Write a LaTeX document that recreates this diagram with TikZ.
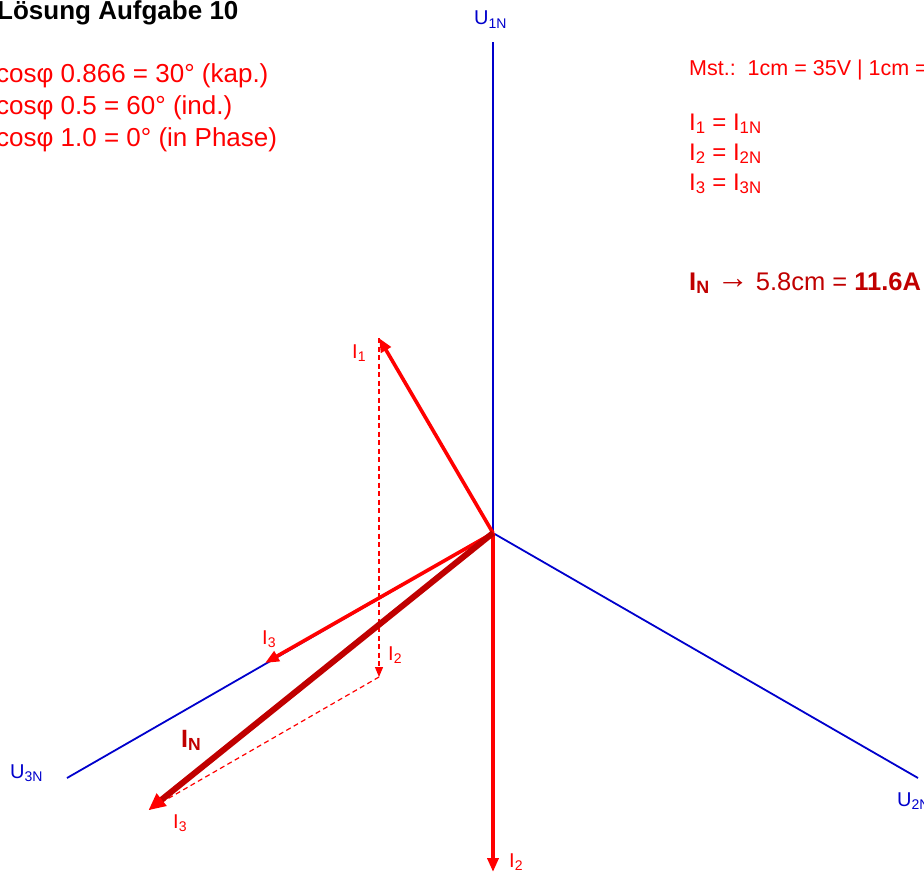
\documentclass[tikz,border=0pt]{standalone}
\usepackage{fontspec}
\setmainfont{Liberation Sans}
\usetikzlibrary{arrows.meta}
\definecolor{ublue}{RGB}{0,0,204}
\definecolor{ired}{RGB}{255,0,0}
\definecolor{dred}{RGB}{192,0,0}
\newcommand{\fs}[1]{\fontsize{#1}{#1}\selectfont}
\tikzset{
  axis/.style={draw=ublue, line width=1.8pt},
  phasor/.style={draw=ired, line width=3.6pt, -{Triangle[length=14pt,width=11pt]}},
  sumphasor/.style={draw=dred, line width=6pt, -{Triangle[length=17pt,width=15pt,color=ired]}, shorten >=-2pt},
  helper/.style={draw=ired, line width=1.2pt, dash pattern=on 5pt off 3.5pt},
  helperarrow/.style={helper, -{Triangle[length=10pt,width=8pt]}},
  txt/.style={inner sep=0pt, anchor=base west},
  ulbl/.style={txt, text=ublue, font=\fs{20}},
  ilbl/.style={txt, text=ired, font=\fs{20}}
}
\begin{document}
\begin{tikzpicture}[x=1pt,y=-1pt]
\useasboundingbox (0,0) rectangle (924,875);
% coordinates
\coordinate (O) at (493,533);
\coordinate (U1) at (493,42);
\coordinate (U2) at (918,778);
\coordinate (U3) at (67,778);
\coordinate (I1) at (379,338);
\coordinate (I2) at (493,872);
\coordinate (I3) at (265,663);
\coordinate (D2) at (379,677);
\coordinate (IN) at (150,809);
% axes
\draw[axis] (O) -- (U1);
\draw[axis] (O) -- (U2);
\draw[axis] (O) -- (U3);
% helper construction
\draw[helperarrow] (I1) -- (D2);
\draw[helper] (D2) -- (IN);
% phasors
\draw[phasor] (O) -- (I1);
\draw[phasor] (O) -- (I2);
\draw[phasor] (O) -- (I3);
\draw[sumphasor] (O) -- (IN);
% axis labels
\node[ulbl] (lU1) at (474,25) {U\textsubscript{1N}};
\node[ulbl] (lU2) at (897,806) {U\textsubscript{2N}};
\node[ulbl] (lU3) at (10,778) {U\textsubscript{3N}};
% phasor labels
\node[ilbl] (lI1) at (352,358) {I\textsubscript{1}};
\node[ilbl] (lI2) at (509,867) {I\textsubscript{2}};
\node[ilbl] (lI3) at (262,644) {I\textsubscript{3}};
\node[ilbl] (lI2b) at (388,660) {I\textsubscript{2}};
\node[ilbl] (lI3b) at (173,828) {I\textsubscript{3}};
\node[txt, text=dred, font=\fs{25}\bfseries] (lIN) at (181,747) {I\textsubscript{N}};
% title and notes
\node[txt, font=\fs{26}\bfseries] (title) at (-3,19.5) {Lösung Aufgabe 10};
\node[txt, text=ired, font=\fs{26}] (c1) at (-4,83) {cosφ 0.866 = 30° (kap.)};
\node[txt, text=ired, font=\fs{26}] (c2) at (-4,114) {cosφ 0.5 = 60° (ind.)};
\node[txt, text=ired, font=\fs{26}] (c3) at (-4,146) {cosφ 1.0 = 0° (in Phase)};
\node[txt, text=ired, font=\fs{21.5}] (mst) at (689,75) {Mst.:\ \ 1cm = 35V | 1cm =};
\node[txt, text=ired, font=\fs{24}] (e1) at (689,130) {I\textsubscript{1} = I\textsubscript{1N}};
\node[txt, text=ired, font=\fs{24}] (e2) at (689,160) {I\textsubscript{2} = I\textsubscript{2N}};
\node[txt, text=ired, font=\fs{24}] (e3) at (689,190) {I\textsubscript{3} = I\textsubscript{3N}};
\node[txt, text=dred, font=\fs{25.5}] (res) at (689,290) {\textbf{I\textsubscript{N}} {\fs{32}\raisebox{1.5pt}{→}} 5.8cm = \textbf{11.6A}};
\end{tikzpicture}
\end{document}
